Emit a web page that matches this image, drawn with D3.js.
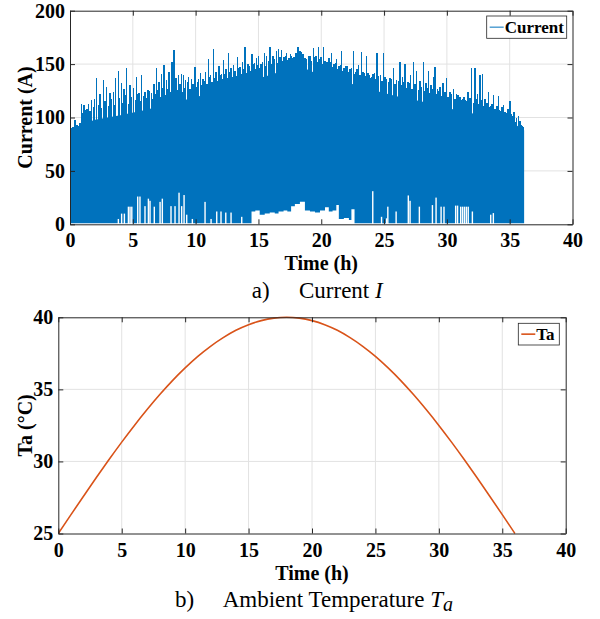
<!DOCTYPE html>
<html>
<head>
<meta charset="utf-8">
<script src="https://cdn.jsdelivr.net/npm/d3@7"></script>
<style>
body { margin: 0; background: #fff; }
svg text { font-family: "Liberation Serif", "Times New Roman", serif; }
</style>
</head>
<body>
<svg id="fig" width="600" height="619"></svg>
<script>

// ---- (a) current: solid core band of the signal
const bandT  = [0, 0.8, 1.0, 2, 4, 6, 8, 10, 12, 14, 16, 17.5, 18.5, 20, 22, 24, 26, 28, 30, 32, 34, 35.5, 36.15];
const bandHi = [80, 86, 94, 98, 102, 107, 113, 119, 126, 133, 140, 146, 147, 139, 133, 126, 120, 115, 109, 104, 98, 93, 88];
const bandLo = 1;

// tall spikes (time h, current A)
const spikeT = [0.12, 0.25, 0.39, 0.57, 0.80, 0.93, 1.12, 1.27, 1.46, 1.72, 1.94, 2.12, 2.39, 2.65, 2.92, 3.18, 3.45, 3.62, 3.85, 4.11,
    4.30, 4.51, 4.78, 5.05, 5.31, 5.50, 5.71, 5.97, 6.20, 6.50, 6.70, 6.90, 7.10, 7.30, 7.49, 7.70, 7.90, 8.10, 8.28, 8.45,
    8.63, 8.89, 9.03, 9.21, 9.45, 9.69, 9.95, 10.15, 10.40, 10.60, 10.80, 11.01, 11.20, 11.41, 11.62, 11.86, 12.05, 12.21, 12.40, 12.61,
    12.80, 13.00, 13.15, 13.32, 13.55, 13.75, 13.93, 14.15, 14.33, 14.50, 14.70, 14.86, 15.00, 15.20, 15.47, 15.66, 15.92, 16.15, 16.45, 16.60,
    16.85, 17.05, 17.25, 17.45, 17.65, 17.85, 18.13, 18.31, 18.55, 18.84, 19.10, 19.37, 19.57, 19.77, 19.97, 20.17, 20.44, 20.63, 20.83, 21.03,
    21.23, 21.43, 21.63, 21.83, 22.03, 22.30, 22.56, 22.75, 22.96, 23.22, 23.42, 23.62, 23.82, 24.02, 24.22, 24.42, 24.70, 24.95, 25.20, 25.48,
    25.74, 26.00, 26.27, 26.45, 26.67, 26.90, 27.10, 27.34, 27.60, 27.85, 28.13, 28.33, 28.53, 28.75, 28.93, 29.06, 29.25, 29.46, 29.70, 29.99,
    30.25, 30.52, 30.78, 31.05, 31.25, 31.45, 31.70, 31.98, 32.25, 32.45, 32.64, 32.85, 33.05, 33.30, 33.50, 33.70, 33.90, 34.10, 34.30, 34.50,
    34.75, 35.03, 35.25, 35.43, 35.70, 35.96, 36.10];
const spikeI = [90, 91, 98, 93, 95, 113, 112, 107, 113, 116, 117, 137, 122, 135, 129, 123, 124, 137, 144, 132,
    127, 146, 130, 128, 138, 123, 140, 124, 126, 123, 131, 146, 133, 141, 149, 135, 143, 152, 163, 137,
    140, 141, 140, 135, 138, 136, 147, 133, 142, 136, 143, 155, 140, 164, 143, 148, 141, 154, 145, 160,
    146, 149, 144, 157, 147, 152, 166, 150, 144, 159, 151, 156, 158, 150, 160, 158, 166, 158, 162, 164,
    163, 157, 160, 156, 158, 157, 166, 162, 159, 155, 158, 165, 158, 166, 157, 166, 152, 156, 160, 150,
    155, 148, 162, 146, 148, 145, 162, 143, 149, 161, 142, 158, 140, 138, 142, 160, 140, 160, 136, 137,
    146, 135, 152, 138, 150, 133, 140, 152, 144, 134, 152, 132, 144, 130, 138, 147, 127, 129, 132, 137,
    124, 127, 122, 119, 117, 116, 124, 146, 146, 122, 140, 141, 117, 124, 111, 121, 108, 120, 106, 112,
    104, 115, 101, 96, 101, 93, 91];

// shorter spikes packed just above the band
const midT = [0.3, 0.7, 1.05, 1.35, 1.6, 1.85, 2.25, 2.5, 2.8, 3.05, 3.3, 3.55, 3.95, 4.2, 4.4, 4.65, 4.9, 5.2, 5.4, 5.6,
    5.85, 6.1, 6.35, 6.6, 6.8, 7.0, 7.2, 7.4, 7.6, 7.8, 8.0, 8.2, 8.55, 8.75, 8.95, 9.1, 9.35, 9.55, 9.8, 10.05,
    10.25, 10.5, 10.7, 10.9, 11.1, 11.3, 11.5, 11.75, 11.95, 12.15, 12.3, 12.5, 12.7, 12.9, 13.08, 13.25, 13.45, 13.65, 13.85, 14.05,
    14.25, 14.4, 14.6, 14.78, 14.93, 15.1, 15.3, 15.57, 15.8, 16.05, 16.3, 16.52, 16.72, 16.95, 17.15, 17.35, 17.55, 17.75, 18.0, 18.22,
    18.43, 18.7, 18.97, 19.23, 19.47, 19.67, 19.87, 20.07, 20.3, 20.53, 20.73, 20.93, 21.13, 21.33, 21.53, 21.73, 21.93, 22.15, 22.43, 22.65,
    22.85, 23.1, 23.32, 23.52, 23.72, 23.92, 24.12, 24.32, 24.55, 24.82, 25.07, 25.35, 25.6, 25.87, 26.13, 26.36, 26.56, 26.78, 27.0, 27.22,
    27.47, 27.72, 27.98, 28.23, 28.43, 28.64, 28.84, 29.15, 29.35, 29.58, 29.85, 30.1, 30.38, 30.65, 30.9, 31.15, 31.35, 31.58, 31.85, 32.1,
    32.35, 32.55, 32.75, 32.95, 33.18, 33.4, 33.6, 33.8, 34.0, 34.2, 34.4, 34.62, 34.88, 35.15, 35.35, 35.55, 35.83, 36.03];
const midI = [89, 92, 104, 108, 106, 110, 112, 109, 115, 111, 117, 112, 118, 114, 121, 113, 119, 116, 122, 115,
    120, 118, 125, 117, 122, 126, 119, 128, 121, 127, 124, 130, 126, 131, 124, 128, 133, 127, 131, 129,
    136, 130, 134, 131, 138, 133, 137, 134, 140, 136, 141, 137, 143, 138, 144, 139, 146, 141, 145, 142,
    148, 144, 150, 145, 149, 146, 152, 148, 153, 150, 155, 151, 157, 153, 158, 154, 159, 156, 160, 157,
    161, 156, 158, 153, 157, 152, 155, 150, 153, 148, 152, 147, 151, 145, 149, 144, 148, 143, 146, 141,
    145, 140, 143, 139, 142, 137, 141, 136, 139, 134, 138, 133, 136, 131, 134, 130, 133, 128, 132, 127,
    131, 126, 129, 125, 128, 123, 127, 122, 125, 120, 124, 119, 122, 117, 121, 116, 119, 115, 118, 114,
    117, 113, 116, 111, 114, 110, 113, 108, 111, 107, 110, 105, 108, 103, 105, 100, 97, 92];

// raised floor around midday (white region under the band), step values
const floorT = [14.45, 14.75, 15.1, 15.5, 15.9, 16.3, 16.6, 17.0, 17.3, 17.6, 17.9, 18.3, 18.7, 19.1, 19.5, 19.9, 20.3, 20.6, 20.9, 21.2, 21.4, 21.8, 22.2, 22.4, 22.65];
const floorI = [12, 13, 9, 10, 11, 10, 12, 13, 12, 17, 19, 21, 13, 12, 11, 13, 16, 12, 13, 18, 5, 6, 4, 14, 1];

// isolated white notches at the bottom (time h, current A)
const dipT = [3.85, 4.11, 4.33, 4.65, 4.78, 4.92, 5.39, 5.57, 5.97, 6.24, 6.37, 6.71, 7.17, 7.35, 8.04, 8.36, 8.68, 8.89, 9.08, 9.29,
    9.74, 10.75, 11.23, 11.68, 12.02, 12.40, 12.82, 13.67, 24.10, 24.80, 25.20, 25.30, 25.96, 26.93, 27.07, 27.81, 28.85, 29.14, 29.54, 29.77,
    30.70, 30.85, 31.10, 31.25, 31.40, 31.55, 31.70, 32.03, 33.49, 33.70];
const dipI = [5, 10, 10, 16.5, 16.5, 16.5, 26, 26, 17, 24, 22, 16.5, 21, 24, 17, 17, 29.6, 17, 27.4, 9,
    5, 21, 5, 12, 12, 11, 11, 7, 31, 7, 5.6, 16.5, 12, 27, 22, 16.5, 18, 25, 16.5, 16.5,
    17.5, 17.5, 16.5, 16.5, 16.5, 16.5, 16.5, 12, 9, 10.5];

// ---- (b) ambient temperature, read hourly
const taT = [0, 1, 2, 3, 4, 5, 6, 7, 8, 9, 10, 11, 12, 13, 14, 15, 16, 17, 18,
    19, 20, 21, 22, 23, 24, 25, 26, 27, 28, 29, 30, 31, 32, 33, 34, 35, 36];
const taC = [25.00, 26.31, 27.60, 28.88, 30.13, 31.34, 32.50, 33.60, 34.64, 35.61, 36.49, 37.29, 37.99, 38.59, 39.10, 39.49, 39.77, 39.94, 40.00,
    39.94, 39.77, 39.49, 39.10, 38.59, 37.99, 37.29, 36.49, 35.61, 34.64, 33.60, 32.50, 31.34, 30.13, 28.88, 27.60, 26.31, 25.00];

const xTicks = [0, 5, 10, 15, 20, 25, 30, 35, 40];
const yTicksA = [0, 50, 100, 150, 200];
const yTicksB = [25, 30, 35, 40];

const blue = '#0072BD';
const orange = '#D95319';
const axisCol = '#262626';
const gridCol = '#e2e2e2';

const svg = d3.select('#fig');

function drawGrid(x, y, yt) {
    const g = svg.append('g');
    const [yb, ytop] = y.range();
    const [xl, xr] = x.range();
    g.selectAll('line.gx').data(xTicks.slice(1, -1)).enter().append('line')
        .attr('x1', d => x(d)).attr('x2', d => x(d))
        .attr('y1', yb).attr('y2', ytop)
        .attr('stroke', gridCol).attr('stroke-width', 1);
    g.selectAll('line.gy').data(yt.slice(1, -1)).enter().append('line')
        .attr('x1', xl).attr('x2', xr)
        .attr('y1', d => y(d)).attr('y2', d => y(d))
        .attr('stroke', gridCol).attr('stroke-width', 1);
}

function drawAxes(x, y, yt) {
    const [yb, ytop] = y.range();
    const [xl, xr] = x.range();
    const style = (g) => {
        g.attr('color', axisCol);
        g.selectAll('path.domain').attr('stroke-width', 1);
        g.selectAll('text').attr('fill', '#000').style('font-size', '20px').style('font-weight', 'bold');
    };
    svg.append('g').attr('transform', `translate(0,${yb})`)
        .call(d3.axisBottom(x).tickValues(xTicks).tickSize(-5).tickSizeOuter(0).tickPadding(9))
        .call(style);
    svg.append('g').attr('transform', `translate(0,${ytop})`)
        .call(d3.axisTop(x).tickValues(xTicks).tickSize(-5).tickSizeOuter(0).tickFormat(''))
        .call(style);
    svg.append('g').attr('transform', `translate(${xl},0)`)
        .call(d3.axisLeft(y).tickValues(yt).tickSize(-5).tickSizeOuter(0).tickPadding(5))
        .call(style);
    svg.append('g').attr('transform', `translate(${xr},0)`)
        .call(d3.axisRight(y).tickValues(yt).tickSize(-5).tickSizeOuter(0).tickFormat(''))
        .call(style);
}

function labels(cx, cy, yx, xlab, ylab, xlabY) {
    svg.append('text').attr('x', cx).attr('y', xlabY)
        .attr('text-anchor', 'middle').style('font-size', '20px').style('font-weight', 'bold')
        .text(xlab);
    svg.append('text').attr('transform', `translate(${yx},${cy}) rotate(-90)`)
        .attr('text-anchor', 'middle').style('font-size', '20px').style('font-weight', 'bold')
        .text(ylab);
}

function legend(x0, y0, w, h, col, lw, name) {
    const g = svg.append('g');
    g.append('rect').attr('x', x0).attr('y', y0).attr('width', w).attr('height', h)
        .attr('fill', '#fff').attr('stroke', axisCol).attr('stroke-width', 0.8);
    g.append('line').attr('x1', x0 + 3).attr('x2', x0 + 17).attr('y1', y0 + h / 2).attr('y2', y0 + h / 2)
        .attr('stroke', col).attr('stroke-width', lw);
    g.append('text').attr('x', x0 + 18).attr('y', y0 + h / 2 + 6)
        .style('font-size', '17px').style('font-weight', 'bold').text(name);
}

function vlines(g, ts, vs, x, y, w) {
    g.append('g').attr('shape-rendering', 'crispEdges')
        .selectAll('line').data(ts).enter().append('line')
        .attr('x1', d => x(d)).attr('x2', d => x(d))
        .attr('y1', y(bandLo)).attr('y2', (d, i) => y(vs[i]))
        .attr('stroke', blue).attr('stroke-width', w);
}

// ================= (a) Current =================
const xa = d3.scaleLinear().domain([0, 40]).range([70, 572.5]);
const ya = d3.scaleLinear().domain([0, 200]).range([224.3, 10.7]);

drawGrid(xa, ya, yTicksA);

svg.append('clipPath').attr('id', 'clipA').append('rect')
    .attr('x', 70).attr('y', 10.7).attr('width', 502.5).attr('height', 213.6);
const pa = svg.append('g').attr('clip-path', 'url(#clipA)');

const band = bandT.map((t, i) => ({t: t, v: bandHi[i]}));
pa.append('path').datum(band)
    .attr('fill', blue)
    .attr('d', d3.area().x(d => xa(d.t)).y0(ya(bandLo)).y1(d => ya(d.v)));

vlines(pa, midT, midI, xa, ya, 1.4);
vlines(pa, spikeT, spikeI, xa, ya, 1.5);

const floor = floorT.map((t, i) => ({t: t, v: floorI[i]}));
pa.append('path').datum(floor)
    .attr('fill', '#fff')
    .attr('d', d3.area().curve(d3.curveStepAfter).x(d => xa(d.t)).y0(ya(0)).y1(d => ya(d.v)));

pa.selectAll('rect.dip').data(dipT).enter().append('rect')
    .attr('x', d => xa(d) - 0.7).attr('width', 1.4)
    .attr('y', (d, i) => ya(dipI[i])).attr('height', (d, i) => ya(0) - ya(dipI[i]))
    .attr('fill', '#fff');

drawAxes(xa, ya, yTicksA);
labels(321.25, 117.5, 32, 'Time (h)', 'Current (A)', 270);
legend(486.7, 16, 80, 22.3, blue, 1, 'Current');

svg.append('text').attr('x', 251.7).attr('y', 298).style('font-size', '23px').text('a)');
const capA = svg.append('text').attr('x', 299).attr('y', 298).style('font-size', '23px');
capA.append('tspan').text('Current ');
capA.append('tspan').style('font-style', 'italic').text('I');

// ================= (b) Ambient temperature =================
const xb = d3.scaleLinear().domain([0, 40]).range([58.3, 565.7]);
const yb = d3.scaleLinear().domain([25, 40]).range([533.5, 317.3]);

drawGrid(xb, yb, yTicksB);

svg.append('clipPath').attr('id', 'clipB').append('rect')
    .attr('x', 58.3).attr('y', 316).attr('width', 507.4).attr('height', 218);
const ta = taT.map((t, i) => ({t: t, v: taC[i]}));
svg.append('g').attr('clip-path', 'url(#clipB)')
    .append('path').datum(ta)
    .attr('fill', 'none').attr('stroke', orange).attr('stroke-width', 1.6)
    .attr('d', d3.line().curve(d3.curveMonotoneX).x(d => xb(d.t)).y(d => yb(d.v)));

drawAxes(xb, yb, yTicksB);
labels(312, 425.4, 32, 'Time (h)', 'Ta (\u00B0C)', 580);
legend(518.3, 323.3, 41, 21.7, orange, 1.6, 'Ta');

svg.append('text').attr('x', 175).attr('y', 606.7).style('font-size', '23px').text('b)');
const capB = svg.append('text').attr('x', 222.7).attr('y', 606.7).style('font-size', '23px');
capB.append('tspan').text('Ambient Temperature ');
capB.append('tspan').style('font-style', 'italic').text('T');
capB.append('tspan').style('font-style', 'italic').style('font-size', '20px').attr('dy', 4).text('a');

</script>
</body>
</html>
